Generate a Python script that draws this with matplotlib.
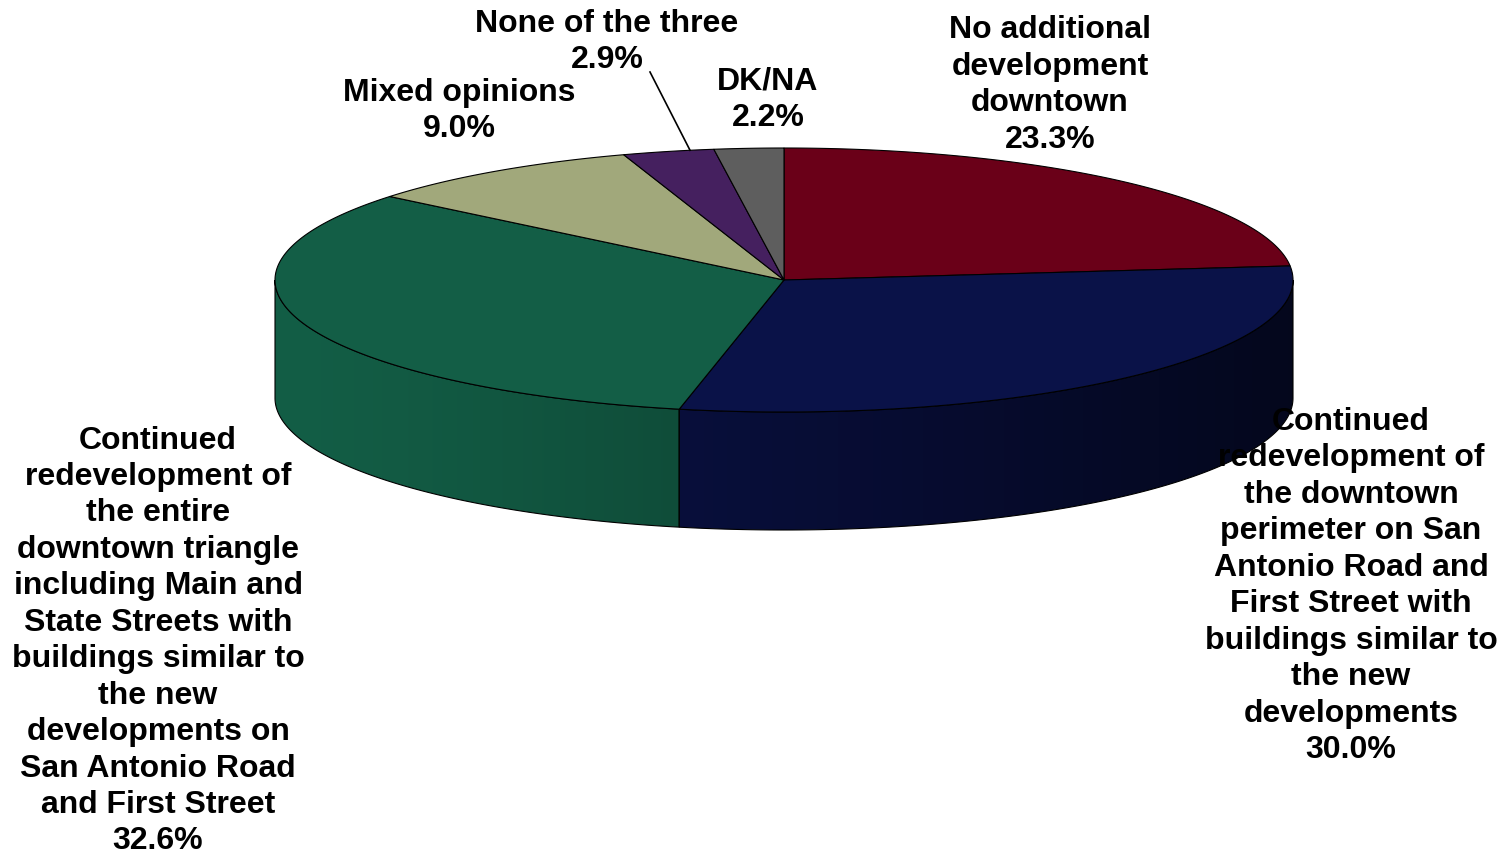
# 3D-style pie chart: preferences for downtown development
import numpy as np
import matplotlib.pyplot as plt
from matplotlib.patches import Polygon

# data
labels = [
    "No additional\ndevelopment\ndowntown",
    "Continued\nredevelopment of\nthe downtown\nperimeter on San\nAntonio Road and\nFirst Street with\nbuildings similar to\nthe new\ndevelopments",
    "Continued\nredevelopment of\nthe entire\ndowntown triangle\nincluding Main and\nState Streets with\nbuildings similar to\nthe new\ndevelopments on\nSan Antonio Road\nand First Street",
    "Mixed opinions",
    "None of the three",
    "DK/NA",
]
shares = [23.3, 30.0, 32.6, 9.0, 2.9, 2.2]

# styles
colors = ["#6A0018", "#0A1248", "#135E46", "#A1A87B", "#45205F", "#5E5E5E"]
label_xy = [(1050, 85), (1351, 586), (158, 641), (459, 111), (607, 42), (768, 100)]

W, H = 1509, 858
cx, cy = 784, 280      # centre of the top face (pixels)
rx, ry = 509, 132      # ellipse radii
depth = 118            # thickness of the pie

plt.rcParams["font.family"] = ["Liberation Sans", "DejaVu Sans"]

fig = plt.figure(figsize=(W / 100, H / 100), dpi=100)
ax = fig.add_axes([0, 0, 1, 1])
ax.axis("off")


def arc(t0, t1, n=200):
    # angles clockwise from 12 o'clock, in degrees
    t = np.radians(np.linspace(t0, t1, n))
    return cx + rx * np.sin(t), cy - ry * np.cos(t)


def shade(x):
    # sides get darker to the right
    f = np.clip((x - (cx - rx)) / (2 * rx), 0, 1)
    return 1.0 - 0.6 * f ** 1.3


# angles of every slice
total = sum(shares)
ends = np.cumsum(shares) / total * 360
starts = np.concatenate([[0], ends[:-1]])

# side faces (only the front half is visible)
for t0, t1, col in zip(starts, ends, colors):
    a, b = max(t0, 90), min(t1, 270)
    if a >= b:
        continue
    xs, ys = arc(a, b)
    px = np.concatenate([xs, xs[::-1]])
    py = np.concatenate([ys, ys[::-1] + depth])
    poly = Polygon(np.column_stack([px, py]), closed=True, facecolor="none",
                   edgecolor="black", linewidth=0.8, zorder=2)
    ax.add_patch(poly)
    gx = np.linspace(px.min(), px.max(), 300)
    rgb = np.array(plt.matplotlib.colors.to_rgb(col))
    img = (rgb[None, :] * shade(gx)[:, None])[None, :, :]
    im = ax.imshow(img, extent=(px.min(), px.max(), py.max(), py.min()),
                   aspect="auto", zorder=1, interpolation="bilinear")
    im.set_clip_path(poly)

# top faces
for t0, t1, col in zip(starts, ends, colors):
    xs, ys = arc(t0, t1)
    px = np.concatenate([[cx], xs])
    py = np.concatenate([[cy], ys])
    ax.add_patch(Polygon(np.column_stack([px, py]), closed=True, facecolor=col,
                         edgecolor="black", linewidth=0.8, zorder=3))

# labels
for lab, val, (lx, ly) in zip(labels, shares, label_xy):
    ax.text(lx, ly, f"{lab}\n{val:.1f}%", ha="center", va="center",
            fontsize=23, fontweight="bold", linespacing=1.28, zorder=5)

# leader line for the small "None of the three" slice
mid = (starts[4] + ends[4]) / 2 + 2.5
ex, ey = arc(mid, mid, 1)
ax.plot([650, ex[0]], [72, ey[0]], color="black", linewidth=1.2, zorder=4)

ax.set_xlim(0, W)
ax.set_ylim(H, 0)
ax.set_aspect("auto")

fig.savefig("out.png", dpi=100, facecolor="white")
